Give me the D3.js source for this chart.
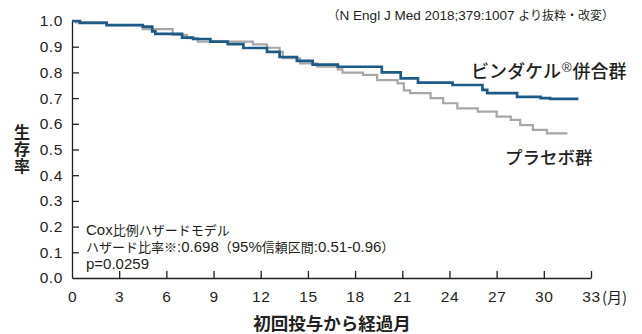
<!DOCTYPE html>
<html><head><meta charset="utf-8">
<script src="https://cdn.jsdelivr.net/npm/d3@7"></script>
<style>
html,body{margin:0;padding:0;background:#fff;}
svg{display:block;font-family:"Liberation Sans","Noto Sans CJK JP",sans-serif;}
</style></head>
<body>
<svg id="chart" width="642" height="334"></svg>
<script>
// Data (months, survival probability)
const blueTimes  = [0, 0.5, 2.2, 4.5, 5.1, 5.3, 7.0, 7.7, 8.8, 9.9, 10.9, 12.4, 13.2, 14.3, 15.3, 16.9, 19.7, 20.9, 22.0, 24.2, 26.1, 26.4, 28.3, 29.8, 30.4, 32.2];
const blueValues = [1.0, 0.993, 0.984, 0.978, 0.96, 0.95, 0.935, 0.93, 0.92, 0.91, 0.895, 0.88, 0.86, 0.845, 0.83, 0.822, 0.80, 0.777, 0.76, 0.751, 0.732, 0.719, 0.705, 0.70, 0.697, 0.697];
const grayTimes  = [0, 0.25, 2.2, 4.5, 6.4, 7.3, 8.0, 11.5, 12.4, 13.2, 13.4, 14.5, 15.6, 16.9, 17.2, 18.5, 19.4, 20.7, 21.1, 21.5, 22.8, 23.6, 24.5, 25.8, 27.0, 27.9, 28.5, 29.3, 30.2, 31.5];
const grayValues = [1.0, 0.995, 0.984, 0.968, 0.946, 0.933, 0.92, 0.909, 0.896, 0.88, 0.855, 0.835, 0.822, 0.812, 0.799, 0.79, 0.77, 0.757, 0.73, 0.719, 0.70, 0.68, 0.66, 0.647, 0.628, 0.615, 0.595, 0.576, 0.563, 0.563];
const xTicks = [0, 3, 6, 9, 12, 15, 18, 21, 24, 27, 30, 33];
const yTicks = [0, 0.1, 0.2, 0.3, 0.4, 0.5, 0.6, 0.7, 0.8, 0.9, 1.0];
const seriesNames = ["ビンダケル", "プラセボ群"];
const noteLines = ["Cox比例ハザードモデル", "ハザード比率※:0.698（95%信頼区間:0.51-0.96）", "p=0.0259"];
const sourceNote = "（N Engl J Med 2018;379:1007 より抜粋・改変）";

const svg = d3.select("#chart");
const x = d3.scaleLinear().domain([0, 33]).range([72, 591]);
const y = d3.scaleLinear().domain([0, 1]).range([278, 21]);
const ink = "#231f20";

// mixed text: ASCII runs in Latin font at latinSize, others in CJK font at cjkSize
function mixedText(sel, str, cjkSize, latinSize) {
  const runs = str.match(/[\x20-\x7E]+|[^\x20-\x7E]+/g);
  runs.forEach(r => {
    const latin = /^[\x20-\x7E]+$/.test(r);
    sel.append("tspan").text(r)
      .style("font-size", (latin ? latinSize : cjkSize) + "px")
      .style("font-family", latin ? "'Liberation Sans'" : "'Noto Sans CJK JP'");
  });
  return sel;
}

// axes
const xAxis = d3.axisBottom(x).tickValues(xTicks).tickSizeInner(-7).tickSizeOuter(0).tickPadding(13)
  .tickFormat(d => d);
const gx = svg.append("g").attr("transform", "translate(0,278)").call(xAxis);
gx.select(".domain").attr("stroke", ink).attr("stroke-width", 1.3);
gx.selectAll(".tick line").attr("stroke", ink).attr("stroke-width", 1.3);
gx.selectAll(".tick text").attr("fill", ink).style("font-size", "15.5px")
  .style("font-family", "'Liberation Sans'").style("letter-spacing", "0.6px");
gx.selectAll(".tick").filter(d => d === 0).select("line").remove();

const yAxis = d3.axisLeft(y).tickValues(yTicks).tickSizeInner(-7).tickSizeOuter(0).tickPadding(9)
  .tickFormat(d3.format(".1f"));
const gy = svg.append("g").attr("transform", "translate(72,0)").call(yAxis);
gy.select(".domain").attr("stroke", ink).attr("stroke-width", 1.3);
gy.selectAll(".tick line").attr("stroke", ink).attr("stroke-width", 1.3);
gy.selectAll(".tick text").attr("fill", ink).style("font-size", "15.5px")
  .style("font-family", "'Liberation Sans'").style("letter-spacing", "0.6px");
gy.selectAll(".tick").filter(d => d === 0).select("line").remove();

// (月)
svg.append("text").attr("x", x(33) + 11).attr("y", 303).attr("fill", ink)
  .style("font-size", "15px").style("font-family", "'Noto Sans CJK JP'").text("(月)");

// curves
const line = d3.line().x(d => x(d[0])).y(d => y(d[1])).curve(d3.curveStepAfter);
const grayData = grayTimes.map((t, i) => [t, grayValues[i]]);
const blueData = blueTimes.map((t, i) => [t, blueValues[i]]);
svg.append("path").datum(grayData).attr("d", line).attr("fill", "none")
  .attr("stroke", "#a8a6a6").attr("stroke-width", 2.2);
svg.append("path").datum(blueData).attr("d", line).attr("fill", "none")
  .attr("stroke", "#1d5b86").attr("stroke-width", 2.7);

// series labels
const lab1 = svg.append("text").attr("x", 471).attr("y", 78).attr("fill", ink)
  .style("font-size", "18px").style("font-family", "'Noto Sans CJK JP'").style("font-weight", 500);
lab1.append("tspan").text(seriesNames[0]);
lab1.append("tspan").attr("dy", -6).attr("dx", 1).style("font-size", "13px").style("font-weight", 400)
  .style("font-family", "'Liberation Sans'").text("®");
lab1.append("tspan").attr("dy", 6).attr("dx", 1).text("併合群");
svg.append("text").attr("x", 505).attr("y", 164).attr("fill", ink)
  .style("font-size", "17.5px").style("font-family", "'Noto Sans CJK JP'").style("font-weight", 500)
  .text(seriesNames[1]);

// source note
const src = svg.append("text").attr("x", 614).attr("y", 20).attr("text-anchor", "end").attr("fill", ink);
mixedText(src, sourceNote, 12, 13.5);

// y label (vertical)
svg.append("text").attr("x", 22).attr("y", 124).attr("fill", ink)
  .style("writing-mode", "vertical-rl").style("text-orientation", "upright")
  .style("font-size", "16px").style("font-weight", "bold").style("letter-spacing", "1px")
  .style("font-family", "'Noto Sans CJK JP'").text("生存率");

// x label
svg.append("text").attr("x", 332).attr("y", 330).attr("text-anchor", "middle").attr("fill", ink)
  .style("font-size", "17.5px").style("font-weight", "bold").style("font-family", "'Noto Sans CJK JP'")
  .text("初回投与から経過月");

// note
noteLines.forEach((t, i) => {
  const tx = svg.append("text").attr("x", 86).attr("y", 235 + i * 17).attr("fill", ink);
  mixedText(tx, t, 13, 15);
});
</script>
</body></html>
